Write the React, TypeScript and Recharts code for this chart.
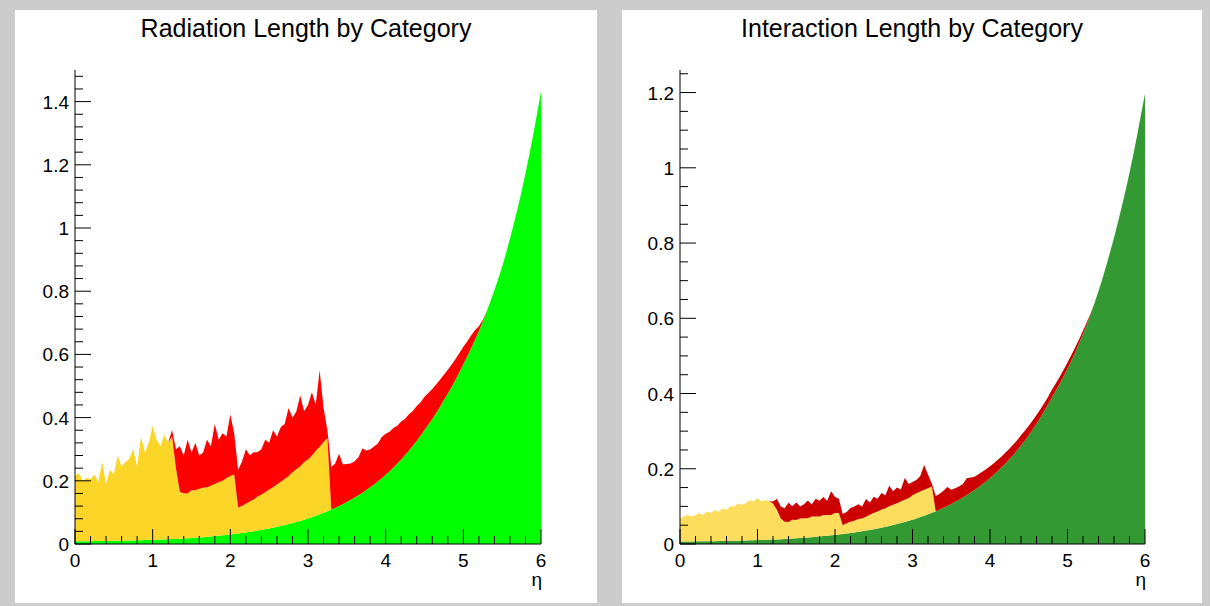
import React from 'react';
import { AreaChart, Area, XAxis, YAxis } from 'recharts';

const FONT = '"Liberation Sans", Arial, Helvetica, sans-serif';

// eta bin edges 0 .. 6, step 0.05 (121 points)
const ETA: number[] = Array.from({ length: 121 }, (_, i) => Math.round(i * 5) / 100);
const X_TICKS: number[] = Array.from({ length: 31 }, (_, i) => Math.round(i * 2) / 10);
const zeros = (n: number) => new Array(n).fill(0);

// ---------- Radiation length ----------
const radGreen = [
  0.0089, 0.0089, 0.0089, 0.0090, 0.0090, 0.0091, 0.0093, 0.0094, 0.0096, 0.0098,
  0.0100, 0.0102, 0.0104, 0.0107, 0.0110, 0.0113, 0.0116, 0.0120, 0.0124, 0.0128,
  0.0132, 0.0137, 0.0140, 0.0145, 0.0151, 0.0155, 0.0161, 0.0166, 0.0173, 0.0181,
  0.0189, 0.0198, 0.0207, 0.0217, 0.0227, 0.0237, 0.0250, 0.0261, 0.0275, 0.0288,
  0.0302, 0.0316, 0.0332, 0.0349, 0.0366, 0.0385, 0.0405, 0.0425, 0.0446, 0.0468,
  0.0492, 0.0516, 0.0544, 0.0571, 0.0600, 0.0631, 0.0662, 0.0696, 0.0731, 0.0768,
  0.0808, 0.0849, 0.0893, 0.0938, 0.0985, 0.1036, 0.1089, 0.1145, 0.1203, 0.1264,
  0.1330, 0.1398, 0.1469, 0.1545, 0.1624, 0.1706, 0.1794, 0.1886, 0.1983, 0.2084,
  0.2191, 0.2303, 0.2422, 0.2545, 0.2676, 0.2813, 0.2957, 0.3109, 0.3268, 0.3435,
  0.3611, 0.3780, 0.3956, 0.4144, 0.4344, 0.4555, 0.4763, 0.4979, 0.5207, 0.5443,
  0.5691, 0.5938, 0.6196, 0.6465, 0.6744, 0.7036, 0.7354, 0.7686, 0.8033, 0.8395,
  0.8774, 0.9205, 0.9658, 1.0132, 1.0631, 1.1154, 1.1726, 1.2327, 1.2959, 1.3623,
  1.4322,
];
const radYellow = [
  0.206, 0.216, 0.191, 0.200, 0.196, 0.211, 0.186, 0.251, 0.180, 0.225,
  0.210, 0.270, 0.235, 0.249, 0.259, 0.289, 0.233, 0.328, 0.277, 0.307,
  0.362, 0.316, 0.296, 0.331, 0.305, 0.325, 0.224, 0.148, 0.143, 0.142,
  0.151, 0.150, 0.154, 0.156, 0.157, 0.161, 0.165, 0.169, 0.173, 0.179,
  0.185, 0.188, 0.082, 0.085, 0.091, 0.096, 0.100, 0.108, 0.112, 0.117,
  0.123, 0.128, 0.134, 0.140, 0.146, 0.152, 0.161, 0.167, 0.172, 0.183,
  0.187, 0.195, 0.206, 0.214, 0.224, 0.231,
  ...zeros(55),
];
const radRed = [
  ...zeros(25),
  0.020, 0.060, 0.145, 0.120, 0.170,
  0.120, 0.150, 0.105, 0.112, 0.150, 0.125, 0.190, 0.135, 0.150, 0.132,
  0.195, 0.130, 0.120, 0.140, 0.172, 0.146, 0.150, 0.140, 0.143, 0.166,
  0.148, 0.180, 0.152, 0.173, 0.174, 0.215, 0.173, 0.183, 0.225, 0.160,
  0.172, 0.200, 0.145, 0.242, 0.108, 0.025,
  0.135, 0.140, 0.165, 0.125,
  0.120, 0.115, 0.115, 0.120, 0.140, 0.125, 0.120, 0.120, 0.120, 0.130,
  0.130, 0.125, 0.125, 0.120, 0.120, 0.115, 0.115, 0.110, 0.110, 0.105,
  0.105, 0.100, 0.095, 0.090, 0.085, 0.080, 0.075, 0.070, 0.065, 0.060,
  0.055, 0.047, 0.040, 0.030, 0.015, 0.005, 0,
  ...zeros(14),
];

// ---------- Interaction length ----------
const intGreen = [
  0.0069, 0.0069, 0.0069, 0.0069, 0.0070, 0.0070, 0.0071, 0.0072, 0.0074, 0.0076,
  0.0077, 0.0079, 0.0082, 0.0084, 0.0086, 0.0089, 0.0092, 0.0094, 0.0098, 0.0101,
  0.0105, 0.0107, 0.0111, 0.0114, 0.0119, 0.0122, 0.0126, 0.0132, 0.0138, 0.0145,
  0.0151, 0.0158, 0.0165, 0.0174, 0.0181, 0.0190, 0.0200, 0.0210, 0.0219, 0.0230,
  0.0242, 0.0254, 0.0267, 0.0280, 0.0294, 0.0308, 0.0324, 0.0340, 0.0357, 0.0375,
  0.0394, 0.0414, 0.0435, 0.0457, 0.0481, 0.0504, 0.0530, 0.0557, 0.0585, 0.0616,
  0.0647, 0.0680, 0.0715, 0.0752, 0.0789, 0.0829, 0.0873, 0.0917, 0.0963, 0.1013,
  0.1065, 0.1120, 0.1177, 0.1237, 0.1300, 0.1367, 0.1437, 0.1511, 0.1588, 0.1670,
  0.1755, 0.1845, 0.1940, 0.2039, 0.2143, 0.2253, 0.2368, 0.2489, 0.2618, 0.2752,
  0.2892, 0.3041, 0.3197, 0.3361, 0.3533, 0.3714, 0.3904, 0.4081, 0.4267, 0.4460,
  0.4663, 0.4874, 0.5100, 0.5335, 0.5582, 0.5840, 0.6121, 0.6416, 0.6725, 0.7050,
  0.7396, 0.7760, 0.8142, 0.8543, 0.8962, 0.9403, 0.9866, 1.0361, 1.0882, 1.1428,
  1.1970,
];
const intYellow = [
  0.061, 0.066, 0.070, 0.066, 0.070, 0.075, 0.070, 0.079, 0.075, 0.083,
  0.078, 0.087, 0.083, 0.092, 0.091, 0.099, 0.095, 0.099, 0.107, 0.103,
  0.112, 0.102, 0.106, 0.102, 0.096, 0.079, 0.055, 0.046, 0.045, 0.050,
  0.049, 0.052, 0.052, 0.051, 0.055, 0.054, 0.053, 0.056, 0.055, 0.054,
  0.058, 0.057, 0.023, 0.027, 0.030, 0.031, 0.034, 0.034, 0.037, 0.040,
  0.043, 0.045, 0.048, 0.049, 0.052, 0.054, 0.055, 0.057, 0.059, 0.060,
  0.065, 0.067, 0.068, 0.069, 0.069, 0.070,
  ...zeros(55),
];
const intRed = [
  ...zeros(24),
  0.005, 0.029, 0.032, 0.036, 0.051, 0.036,
  0.046, 0.032, 0.037, 0.047, 0.032, 0.047, 0.042, 0.048, 0.038, 0.063,
  0.043, 0.038, 0.030, 0.030, 0.036, 0.038, 0.039, 0.032, 0.047, 0.033,
  0.043, 0.034, 0.044, 0.035, 0.055, 0.036, 0.042, 0.032, 0.058, 0.038,
  0.035, 0.035, 0.041, 0.066, 0.037, 0.007,
  0.040, 0.042, 0.045, 0.050,
  0.038, 0.036, 0.035, 0.036, 0.045, 0.040, 0.035, 0.034, 0.033, 0.032,
  0.031, 0.030, 0.030, 0.029, 0.029, 0.028, 0.028, 0.027, 0.027, 0.026,
  0.025, 0.024, 0.023, 0.022, 0.021, 0.020, 0.020, 0.019, 0.018, 0.017,
  0.016, 0.015, 0.013, 0.011, 0.009, 0.006, 0.002,
  ...zeros(14),
];

const H = 593;
const AXIS_BOTTOM = 59;

const makeXTick = (axisY: number) => (props: any) => {
  const { x, payload } = props;
  const v: number = payload.value;
  const major = Math.abs(v - Math.round(v)) < 1e-6;
  return (
    <g>
      <line x1={x} x2={x} y1={axisY} y2={axisY - (major ? 15 : 8)} stroke="#000" strokeWidth={1} />
      {major && (
        <text x={x} y={axisY + 23} textAnchor="middle" fontSize={19} fontFamily={FONT} fill="#000">
          {String(Math.round(v))}
        </text>
      )}
    </g>
  );
};

const makeYTick = (axisX: number) => (props: any) => {
  const { y, payload } = props;
  const v: number = payload.value;
  const q = v / 0.2;
  const major = Math.abs(q - Math.round(q)) < 1e-6;
  return (
    <g>
      <line x1={axisX} x2={axisX + (major ? 16 : 8)} y1={y} y2={y} stroke="#000" strokeWidth={1} />
      {major && (
        <text x={axisX - 6} y={y + 7} textAnchor="end" fontSize={19} fontFamily={FONT} fill="#000">
          {String(+v.toFixed(1))}
        </text>
      )}
    </g>
  );
};

type PanelProps = {
  left: number;
  width: number;
  title: string;
  green: number[];
  yellow: number[];
  red: number[];
  colors: [string, string, string];
  yMax: number;
  yMinor: number;
  yCount: number;
  marginLeft: number;
  marginRight: number;
};

function Panel(p: PanelProps) {
  const rows = ETA.map((eta, i) => ({ eta, g: p.green[i], y: p.yellow[i], r: p.red[i] }));
  const yTicks = Array.from({ length: p.yCount }, (_, i) => +(i * p.yMinor).toFixed(2));
  const XT = makeXTick(H - AXIS_BOTTOM);
  const YT = makeYTick(p.marginLeft);
  return (
    <div style={{ position: 'absolute', left: p.left, top: 10, width: p.width, height: H, background: '#fff' }}>
      <div
        style={{
          position: 'absolute', left: 0, top: 3, width: '100%', textAlign: 'center',
          fontFamily: FONT, fontSize: 25, lineHeight: '30px', color: '#000',
        }}
      >
        {p.title}
      </div>
      <AreaChart
        width={p.width}
        height={H}
        data={rows}
        margin={{ top: 60, right: p.marginRight, bottom: 0, left: 0 }}
      >
        <XAxis
          dataKey="eta" type="number" domain={[0, 6]} ticks={X_TICKS} interval={0}
          tick={XT} tickSize={0} tickMargin={0} tickLine={false}
          height={AXIS_BOTTOM} axisLine={{ stroke: '#000' }} allowDataOverflow
        />
        <YAxis
          type="number" domain={[0, p.yMax]} ticks={yTicks} interval={0}
          tick={YT} tickSize={0} tickMargin={0} tickLine={false}
          width={p.marginLeft} axisLine={{ stroke: '#000' }} allowDataOverflow
        />
        <Area dataKey="g" stackId="s" type="linear" stroke="none" fill={p.colors[0]} fillOpacity={1} isAnimationActive={false} dot={false} activeDot={false} />
        <Area dataKey="y" stackId="s" type="linear" stroke="none" fill={p.colors[1]} fillOpacity={1} isAnimationActive={false} dot={false} activeDot={false} />
        <Area dataKey="r" stackId="s" type="linear" stroke="none" fill={p.colors[2]} fillOpacity={1} isAnimationActive={false} dot={false} activeDot={false} />
        <XAxis xAxisId="top" orientation="top" type="number" domain={[0, 6]} ticks={[]} tick={false} tickLine={false} height={0} axisLine={{ stroke: '#000' }} />
        <YAxis yAxisId="right" orientation="right" type="number" domain={[0, p.yMax]} ticks={[]} tick={false} tickLine={false} width={0} axisLine={{ stroke: '#000' }} />
      </AreaChart>
      <div
        style={{
          position: 'absolute', right: p.marginRight - 1, top: 560, fontFamily: FONT,
          fontSize: 19, lineHeight: '20px', color: '#000',
        }}
      >
        η
      </div>
    </div>
  );
}

export default function App() {
  return (
    <div style={{ position: 'absolute', left: 0, top: 0, width: 1210, height: 606, background: '#cccccc', overflow: 'hidden' }}>
      <Panel
        left={15} width={582} title="Radiation Length by Category"
        green={radGreen} yellow={radYellow} red={radRed}
        colors={['#00ff00', '#fbd629', '#ff0000']}
        yMax={1.5} yMinor={0.04} yCount={38} marginLeft={60} marginRight={56}
      />
      <Panel
        left={622} width={580} title="Interaction Length by Category"
        green={intGreen} yellow={intYellow} red={intRed}
        colors={['#339933', '#ffdd5c', '#cc0000']}
        yMax={1.26} yMinor={0.05} yCount={26} marginLeft={58} marginRight={57}
      />
    </div>
  );
}
